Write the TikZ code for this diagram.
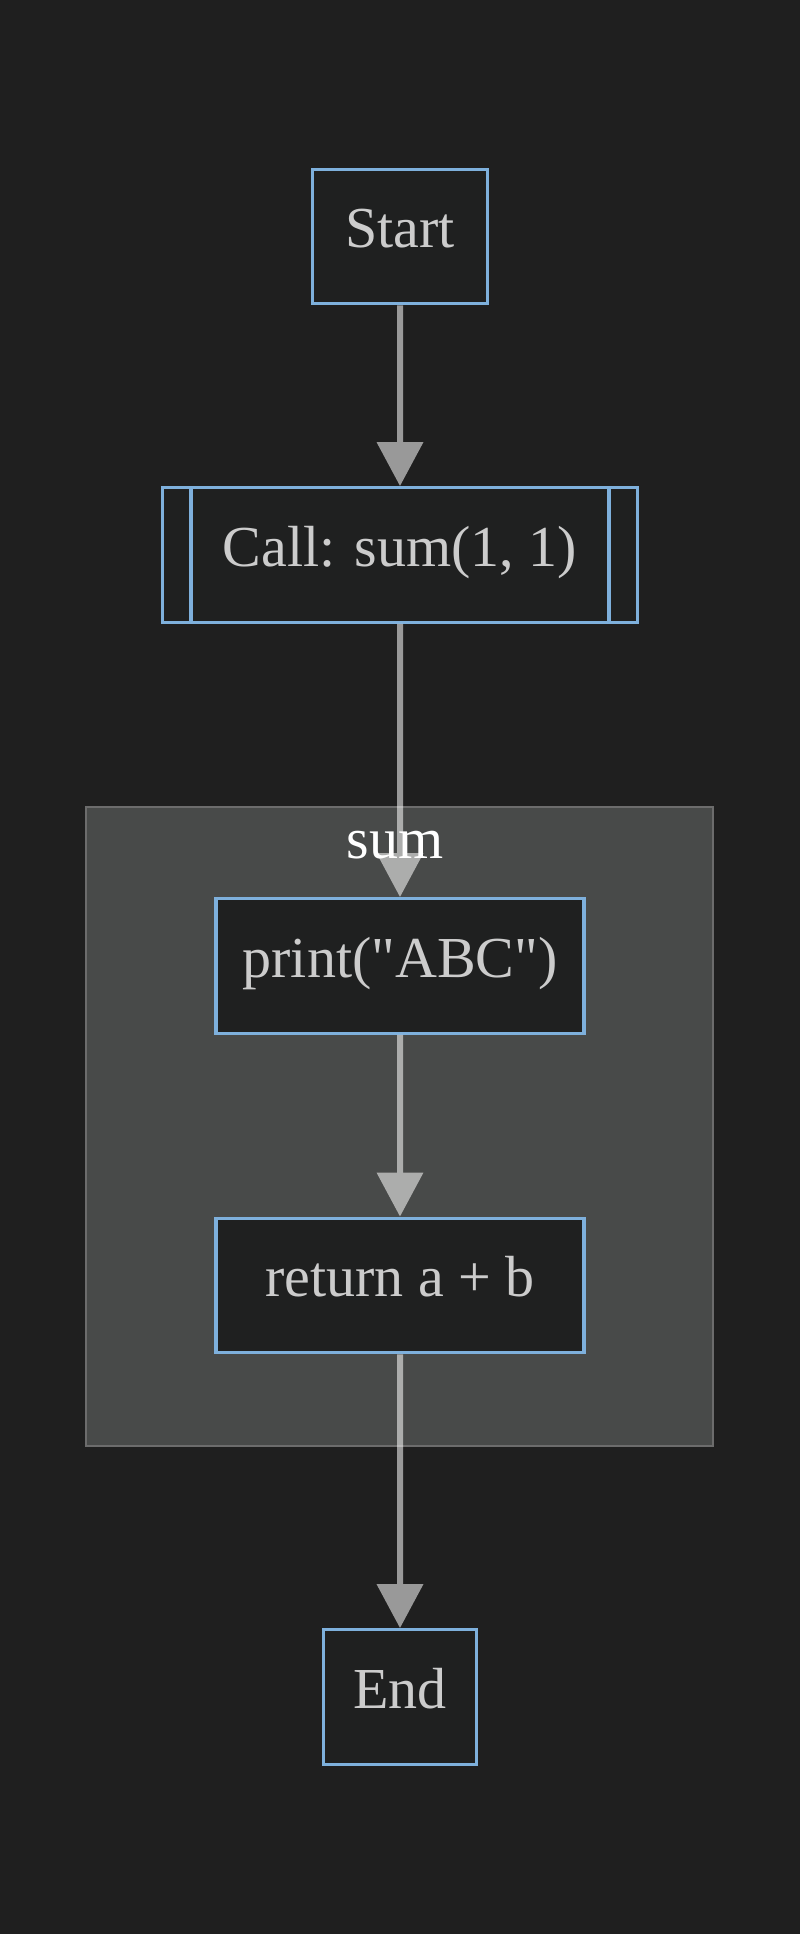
\documentclass[tikz,border=0pt]{standalone}
\usepackage{fontspec}
\setmainfont{Liberation Serif}[Ligatures=TeXOff]
\usetikzlibrary{arrows.meta}
\definecolor{bgc}{HTML}{1F1F1F}
\definecolor{nodefill}{HTML}{1F2020}
\definecolor{nodeborder}{HTML}{7EB0DC}
\definecolor{nodetext}{HTML}{CCCCCC}
\definecolor{clusterfill}{HTML}{484A49}
\definecolor{clusterborder}{HTML}{6C6C6C}
\tikzset{
  box/.style={draw=nodeborder, fill=nodefill, line width=2.4pt, inner sep=0pt,
    minimum height=101pt, text=nodetext,
    font=\fontsize{43.5pt}{50pt}\selectfont, text height=28.7pt, text depth=11.5pt},
  edge/.style={color=white, line width=4.5pt,
    -{Triangle[width=34pt,length=33pt]}},
}
\begin{document}
\begin{tikzpicture}[x=0.75pt,y=-0.75pt]
\useasboundingbox (0,0) rectangle (800,1934);
\fill[bgc] (0,0) rectangle (800,1934);
% cluster
\draw[fill=clusterfill, draw=clusterborder, line width=1.8pt] (86,807) rectangle (713,1446);
% nodes
\node[box, minimum width=131pt] (start) at (400,236.5) {Start};
\node[box, minimum width=356pt] (call) at (400,555) {Call: sum(1, 1)};
\draw[nodeborder, line width=2.4pt] ([xshift=22.5pt]call.north west) -- ([xshift=22.5pt]call.south west);
\draw[nodeborder, line width=2.4pt] ([xshift=-22.5pt]call.north east) -- ([xshift=-22.5pt]call.south east);
\node[box, minimum width=276pt] (print) at (400,966) {print("ABC")};
\node[box, minimum width=276pt] (ret) at (400,1285.5) {return a + b};
\node[box, minimum width=115pt] (end) at (400,1697) {End};
% edges
\begin{scope}[transparency group, opacity=0.55]
\draw[edge] (start) -- (call);
\draw[edge] (call) -- (print);
\draw[edge] (print) -- (ret);
\draw[edge] (ret) -- (end);
\end{scope}
% cluster label
\node[text=white, font=\fontsize{43.5pt}{50pt}\selectfont, anchor=base, inner sep=0pt] (sumlabel) at (395,858) {sum};
\end{tikzpicture}
\end{document}
